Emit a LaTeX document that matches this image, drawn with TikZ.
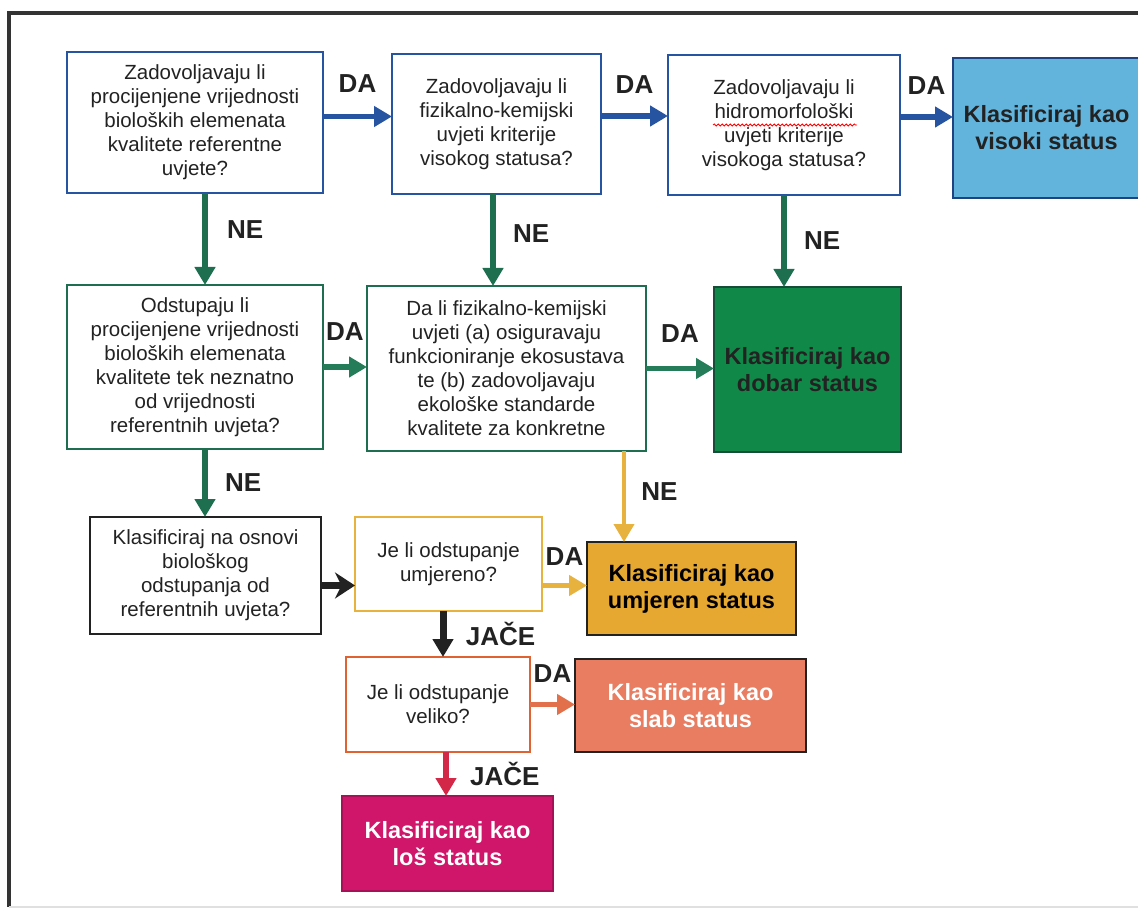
\documentclass[tikz,border=0pt]{standalone}
\usepackage{fontspec}
\setmainfont{Liberation Sans}
\usepackage{xcolor}
\usepackage{tikz}
\usetikzlibrary{arrows.meta,positioning,decorations.pathmorphing}
\definecolor{qblue}{RGB}{38,84,160}
\definecolor{skyfill}{RGB}{98,180,220}
\definecolor{qgreen}{RGB}{30,110,80}
\definecolor{goodfill}{RGB}{16,137,72}
\definecolor{arrgreen}{RGB}{36,124,88}
\definecolor{qyellow}{RGB}{232,178,62}
\definecolor{modfill}{RGB}{230,168,48}
\definecolor{qorange}{RGB}{224,98,48}
\definecolor{arrorange}{RGB}{226,112,74}
\definecolor{poorfill}{RGB}{232,125,98}
\definecolor{badred}{RGB}{212,40,72}
\definecolor{badfill}{RGB}{208,22,106}
\definecolor{inkgray}{RGB}{34,34,34}

\begin{document}
\begin{tikzpicture}[x=1pt, y=-1pt, font=\fontsize{20.5}{24}\selectfont, text=inkgray]
\tikzstyle{box}=[draw, line width=1.5pt, align=center, inner sep=0pt, outer sep=0pt]
\tikzstyle{result}=[box, font=\fontsize{23.5}{27}\selectfont\bfseries]
\tikzstyle{lbl}=[font=\fontsize{26}{30}\selectfont\bfseries, text=inkgray]
\tikzstyle{arr}=[line width=5.5pt, -{Triangle[length=18pt,width=20pt]}]
\useasboundingbox (0,0) rectangle (1138,909);

% frame
\draw[line width=4pt, black!80] (1138,13) -- (9,13) -- (9,907);
\draw[line width=2pt, black!12] (9,907) -- (1138,907);

% first row: high status
\node[box, draw=qblue, minimum width=256pt, minimum height=141pt] (q1) at (195,122.5) {Zadovoljavaju li\\procijenjene vrijednosti\\bioloških elemenata\\kvalitete referentne\\uvjete?};
\node[box, draw=qblue, minimum width=209pt, minimum height=140pt] (q2) at (496.5,124) {Zadovoljavaju li\\fizikalno-kemijski\\uvjeti kriterije\\visokog statusa?};
\node[box, draw=qblue, minimum width=232pt, minimum height=140pt] (q3) at (784,125) {Zadovoljavaju li\\hidromorfološki\\uvjeti kriterije\\visokoga statusa?};
\node[result, draw=qblue!80!black, fill=skyfill, minimum width=187pt, minimum height=140pt] (vis) at (1046.5,128) {Klasificiraj kao\\visoki status};

% second row: good status
\node[box, draw=qgreen, minimum width=256pt, minimum height=164pt] (q4) at (195,367) {Odstupaju li\\procijenjene vrijednosti\\bioloških elemenata\\kvalitete tek neznatno\\od vrijednosti\\referentnih uvjeta?};
\node[box, draw=qgreen, minimum width=279pt, minimum height=165pt] (q5) at (506.5,368.5) {Da li fizikalno-kemijski\\uvjeti (a) osiguravaju\\funkcioniranje ekosustava\\te (b) zadovoljavaju\\ekološke standarde\\kvalitete za konkretne};
\node[result, draw=qgreen!70!black, fill=goodfill, minimum width=187pt, minimum height=165pt] (dob) at (807.5,369.5) {Klasificiraj kao\\dobar status};

% lower part
\node[box, draw=inkgray, minimum width=231pt, minimum height=117pt] (osn) at (205.5,575.5) {Klasificiraj na osnovi\\biološkog\\odstupanja od\\referentnih uvjeta?};
\node[box, draw=qyellow, line width=2.5pt, minimum width=187pt, minimum height=94pt] (q6) at (448.5,564) {Je li odstupanje\\umjereno?};
\node[result, draw=inkgray, fill=modfill, text=black, minimum width=209pt, minimum height=93pt] (umj) at (691.5,588.5) {Klasificiraj kao\\umjeren status};
\node[box, draw=qorange, line width=2.5pt, minimum width=184pt, minimum height=95pt] (q7) at (438,704.5) {Je li odstupanje\\veliko?};
\node[result, draw=inkgray, fill=poorfill, text=white, minimum width=231pt, minimum height=93pt] (slab) at (690.5,705.5) {Klasificiraj kao\\slab status};
\node[result, draw=badfill!80!black, fill=badfill, text=white, minimum width=211pt, minimum height=95pt] (los) at (447.5,843.5) {Klasificiraj kao\\loš status};

% spell-check mark
\draw[red, line width=0.8pt, decorate, decoration={snake, amplitude=1pt, segment length=4pt}] (713,125) -- (857,125);

% DA arrows
\draw[arr, qblue] ([yshift=6pt]q1.east) -- ([yshift=6pt]q1.east -| q2.west) node[lbl, midway, above=18pt] {DA};
\draw[arr, qblue] ([yshift=8pt]q2.east) -- ([yshift=8pt]q2.east -| q3.west) node[lbl, midway, above=16pt] {DA};
\draw[arr, qblue] ([yshift=8pt]q3.east) -- ([yshift=8pt]q3.east -| vis.west) node[lbl, midway, above=16pt] {DA};
\draw[arr, arrgreen] (q4.east) -- (q4.east -| q5.west) node[lbl, midway, above=20pt] {DA};
\draw[arr, arrgreen] (q5.east) -- (q5.east -| dob.west) node[lbl, midway, above=20pt] {DA};
\draw[arr, qyellow] ([yshift=3pt]umj.west -| q6.east) -- ([yshift=3pt]umj.west) node[lbl, midway, above=14pt] {DA};
\draw[arr, arrorange] (q7.east) -- (q7.east -| slab.west) node[lbl, midway, above=16pt] {DA};

% NE arrows
\draw[arr, qgreen] ([xshift=10pt]q1.south) -- ([xshift=10pt]q4.north) node[lbl, pos=.4, right=16pt] {NE};
\draw[arr, qgreen] ([xshift=-3.5pt]q2.south) -- ([xshift=-3.5pt]q2.south |- q5.north) node[lbl, pos=.43, right=14pt] {NE};
\draw[arr, qgreen] (q3.south) -- (q3.south |- dob.north) node[lbl, pos=.5, right=14pt] {NE};
\draw[arr, qgreen] ([xshift=10pt]q4.south) -- ([xshift=10pt]q4.south |- osn.north) node[lbl, pos=.5, right=14pt] {NE};
\draw[arr, qyellow, line width=4pt] ([xshift=117.5pt]q5.south) -- ([xshift=117.5pt]q5.south |- umj.north) node[lbl, pos=.45, right=12pt] {NE};

% stronger deviation
\draw[line width=7pt, inkgray, -{Stealth[length=20pt,width=26pt]}] ([yshift=-10pt]osn.east) -- ([yshift=-10pt]osn.east -| q6.west);
\draw[arr, inkgray, line width=7pt] ([xshift=-5.5pt]q6.south) -- ([xshift=-5.5pt]q6.south |- q7.north) node[lbl, pos=.5, right=16pt] {JAČE};
\draw[arr, badred] ([xshift=8pt]q7.south) -- ([xshift=8pt]q7.south |- los.north) node[lbl, pos=.5, right=18pt] {JAČE};
\end{tikzpicture}
\end{document}
